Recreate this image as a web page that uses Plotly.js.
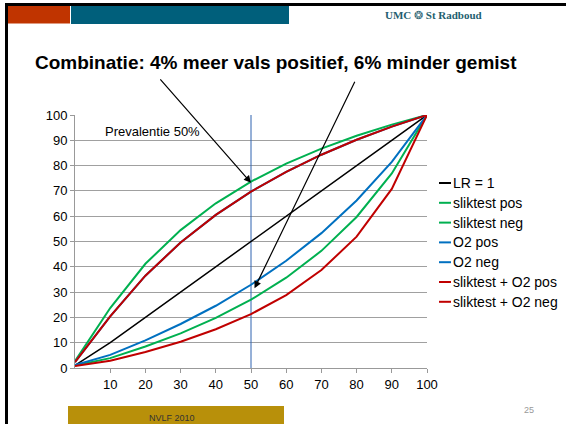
<!DOCTYPE html>
<html>
<head>
<meta charset="utf-8">
<script src="https://cdn.plot.ly/plotly-3.0.1.min.js"></script>
<style>html,body{margin:0;padding:0;background:#fff;}#chart{width:566px;height:424px;}</style>
</head>
<body>
<div id="chart"></div>
<script>
// ---- data ----
const prevalence = [0, 10, 20, 30, 40, 50, 60, 70, 80, 90, 100];
const xTickVals = [10, 20, 30, 40, 50, 60, 70, 80, 90, 100];
const yTickVals = [0, 10, 20, 30, 40, 50, 60, 70, 80, 90, 100];
const seriesNames = ["LR = 1", "sliktest pos", "sliktest neg", "O2 pos", "O2 neg", "sliktest + O2 pos", "sliktest + O2 neg"];
const lr1 = [1, 10, 20, 30, 40, 50, 60, 70, 80, 90, 100];
const sliktestPos = [2.7, 23.7, 41.2, 54.5, 65.1, 73.7, 80.8, 86.7, 91.8, 96.2, 100];
const sliktestNeg = [1.0, 3.9, 8.5, 13.7, 19.8, 27.0, 35.7, 46.3, 59.7, 76.9, 100];
const o2Pos = [2.3, 20.4, 36.5, 49.6, 60.5, 69.7, 77.5, 84.3, 90.2, 95.4, 100];
const o2Neg = [1.2, 5.2, 10.9, 17.4, 24.6, 32.9, 42.4, 53.3, 66.2, 81.5, 100];
const combPos = [2.3, 20.4, 36.5, 49.6, 60.5, 69.7, 77.5, 84.3, 90.2, 95.4, 100];
const combNeg = [0.8, 2.9, 6.3, 10.4, 15.3, 21.3, 28.8, 38.7, 51.9, 70.8, 100];
const markerPrevalence = [50, 50];
const markerRange = [0, 100];
const seriesColors = ["#000000", "#00B050", "#00B050", "#0070C0", "#0070C0", "#C00000", "#C00000"];
const seriesWidths = [1.5, 2, 2, 2, 2, 2, 2];

// ---- layout helpers (pixel -> paper) ----
const L = 75, R = 139, T = 115, B = 56, W = 566, H = 424;
const PW = W - L - R, PH = H - T - B;
const X = px => (px - L) / PW;
const Y = py => (H - B - py) / PH;

const ys = [lr1, sliktestPos, sliktestNeg, o2Pos, o2Neg, combPos, combNeg];
const traces = [{
  x: markerPrevalence, y: markerRange, mode: 'lines', type: 'scatter',
  line: {color: '#2E62B0', width: 1}, hoverinfo: 'skip', showlegend: false
}];
ys.forEach((arr, i) => traces.push({
  x: prevalence, y: arr, name: seriesNames[i], mode: 'lines', type: 'scatter',
  line: {color: seriesColors[i], width: seriesWidths[i]}, showlegend: false
}));

const font = "Liberation Sans, Arial, sans-serif";
const shapes = [
  {type: 'rect', xref: 'paper', yref: 'paper', x0: X(5), x1: X(566), y0: Y(6), y1: Y(3), fillcolor: '#000', line: {width: 0}},
  {type: 'rect', xref: 'paper', yref: 'paper', x0: X(5), x1: X(8), y0: Y(424), y1: Y(3), fillcolor: '#000', line: {width: 0}},
  {type: 'rect', xref: 'paper', yref: 'paper', x0: X(8), x1: X(70), y0: Y(23.5), y1: Y(6), fillcolor: '#C03400', line: {width: 0}},
  {type: 'rect', xref: 'paper', yref: 'paper', x0: X(71), x1: X(289), y0: Y(24), y1: Y(6), fillcolor: '#005F7B', line: {width: 0}},
  {type: 'rect', xref: 'paper', yref: 'paper', x0: X(68), x1: X(284), y0: Y(424), y1: Y(406), fillcolor: '#B8900A', line: {width: 0}}
];
const annotations = [
  {xref: 'paper', yref: 'paper', x: X(33), y: Y(62), xanchor: 'left', yanchor: 'middle', showarrow: false,
   text: '<b>Combinatie: 4% meer vals positief, 6% minder gemist</b>', font: {family: font, size: 19, color: '#000'}},
  {xref: 'paper', yref: 'paper', x: X(433), y: Y(15), xanchor: 'center', yanchor: 'middle', showarrow: false,
   text: '<b>UMC</b> ❂ <b>St Radboud</b>', font: {family: 'Liberation Serif, DejaVu Serif, serif', size: 11, color: '#1F5F70'}},
  {xref: 'paper', yref: 'paper', x: X(103), y: Y(131), xanchor: 'left', yanchor: 'middle', showarrow: false,
   text: 'Prevalentie 50%', font: {family: font, size: 13, color: '#000'}},
  {xref: 'paper', yref: 'paper', x: X(172), y: Y(418), xanchor: 'center', yanchor: 'middle', showarrow: false,
   text: 'NVLF 2010', font: {family: font, size: 9, color: '#333'}},
  {xref: 'paper', yref: 'paper', x: X(529), y: Y(410), xanchor: 'center', yanchor: 'middle', showarrow: false,
   text: '25', font: {family: font, size: 9, color: '#999'}},
  {xref: 'x', yref: 'y', x: 50, y: 73.2, ax: -92, ay: -105, showarrow: true, arrowhead: 2, arrowsize: 1.2, arrowwidth: 1.2, arrowcolor: '#000', text: ''},
  {xref: 'x', yref: 'y', x: 51, y: 31.5, ax: 101, ay: -208, showarrow: true, arrowhead: 2, arrowsize: 1.2, arrowwidth: 1.2, arrowcolor: '#000', text: ''}
];
// manual legend
seriesNames.forEach((n, i) => {
  const py = 183 + 19.8 * i;
  shapes.push({type: 'line', xref: 'paper', yref: 'paper', x0: X(439), x1: X(451), y0: Y(py), y1: Y(py),
               line: {color: seriesColors[i], width: 2}});
  annotations.push({xref: 'paper', yref: 'paper', x: X(451), y: Y(py), xanchor: 'left', yanchor: 'middle',
                    showarrow: false, text: n, font: {family: font, size: 14, color: '#000'}});
});

const layout = {
  width: W, height: H,
  margin: {l: L, r: R, t: T, b: B, pad: 0},
  paper_bgcolor: '#fff', plot_bgcolor: '#fff',
  showlegend: false,
  xaxis: {range: [0, 100], tickvals: xTickVals, ticktext: xTickVals.map(String), ticks: 'outside', ticklen: 4,
          tickcolor: '#999', showgrid: false, zeroline: false, showline: true, linecolor: '#999', linewidth: 1,
          tickfont: {family: font, size: 13, color: '#000'}, fixedrange: true},
  yaxis: {range: [0, 100], tickvals: yTickVals, ticks: 'outside', ticklen: 4, tickcolor: '#999',
          showgrid: true, gridcolor: '#A0A0A0', gridwidth: 1, zeroline: false, showline: true, linecolor: '#999',
          tickfont: {family: font, size: 13, color: '#000'}, fixedrange: true},
  shapes: shapes,
  annotations: annotations
};
Plotly.newPlot('chart', traces, layout, {displayModeBar: false, staticPlot: true});
</script>
</body>
</html>
